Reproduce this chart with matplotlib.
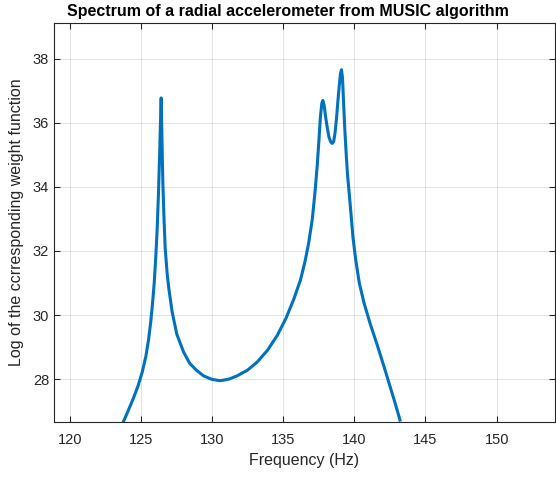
import matplotlib
matplotlib.use("Agg")
import matplotlib.pyplot as plt

plt.rcParams['font.family'] = ['Liberation Sans', 'DejaVu Sans']

freq = [123.77, 124.1, 124.45, 124.8, 125.1, 125.35, 125.55, 125.7, 125.82, 125.94,
        126.05, 126.15, 126.24, 126.32, 126.38, 126.43,
        126.48, 126.55, 126.63, 126.71, 126.85, 126.97, 127.2, 127.53, 128.0,
        128.42, 128.9, 129.41, 130.0, 130.58, 131.2, 131.76, 132.5, 133.17,
        133.9, 134.58, 135.2, 135.75, 136.22, 136.55, 136.8, 137.05, 137.25,
        137.4, 137.52, 137.62, 137.72, 137.79, 137.88, 137.98, 138.1, 138.22,
        138.35, 138.45, 138.55, 138.65, 138.75, 138.85, 138.95, 139.03, 139.1,
        139.17, 139.24, 139.32, 139.42, 139.52, 139.74, 139.9, 140.09, 140.35,
        140.68, 141.1, 141.62, 142.1, 142.56, 142.9, 143.21]
logw = [26.66, 27.0, 27.37, 27.78, 28.22, 28.7, 29.25, 29.8, 30.35, 31.0,
        31.8, 32.7, 33.8, 35.0, 36.0, 36.78,
        35.6, 34.1, 33.0, 32.1, 31.3, 30.82, 30.1, 29.4, 28.85,
        28.5, 28.28, 28.1, 27.99, 27.95, 28.0, 28.1, 28.28, 28.53,
        28.9, 29.36, 29.9, 30.5, 31.1, 31.7, 32.27, 33.0, 33.9,
        34.7, 35.5, 36.2, 36.62, 36.7, 36.55, 36.2, 35.85, 35.55,
        35.4, 35.36, 35.42, 35.7, 36.15, 36.7, 37.2, 37.55, 37.66,
        37.4, 36.7, 35.9, 35.1, 34.4, 33.3, 32.45, 31.75, 31.0,
        30.38, 29.75, 29.05, 28.37, 27.7, 27.2, 26.72]

xticks = [120, 125, 130, 135, 140, 145, 150]
yticks = [28, 30, 32, 34, 36, 38]

fig = plt.figure(figsize=(5.56, 4.78), dpi=100)
ax = fig.add_axes([54/556, 56/478, 501/556, 399/478])
ax.plot(freq, logw, color='#0072BD', linewidth=2.2, solid_joinstyle='round')
ax.set_xlim(118.9, 154.1)
ax.set_ylim(26.66, 39.12)
ax.set_xticks(xticks)
ax.set_yticks(yticks)
ax.grid(True, color='#262626', alpha=0.15, linewidth=0.6)
ax.set_axisbelow(True)
for s in ax.spines.values():
    s.set_color('#262626')
    s.set_linewidth(0.8)
ax.tick_params(direction='in', length=4, width=0.8, colors='#262626',
               labelsize=10.5, top=True, right=True)
ax.tick_params(axis='x', pad=8)
ax.set_xlabel('Frequency (Hz)', fontsize=11.5, color='#262626', labelpad=4)
ax.set_ylabel('Log of the ccrresponding weight function', fontsize=11.5,
              color='#262626', labelpad=6)
ax.set_title('Spectrum of a radial accelerometer from MUSIC algorithm',
             fontsize=11.5, fontweight='bold', color='black', x=0.467, pad=5)
fig.savefig('out.png', dpi=100)
